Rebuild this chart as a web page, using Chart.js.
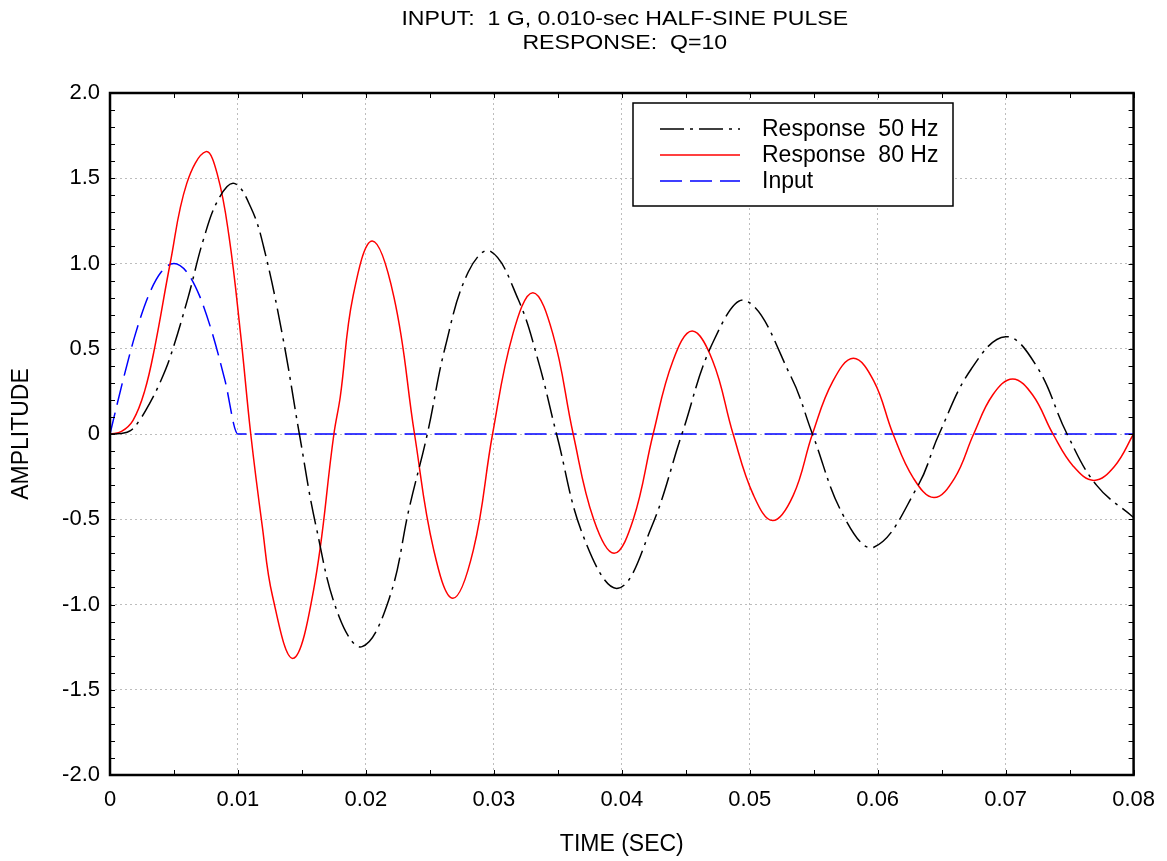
<!DOCTYPE html>
<html>
<head>
<meta charset="utf-8">
<script src="https://cdn.jsdelivr.net/npm/chart.js@4.4.1/dist/chart.umd.min.js"></script>
<style>
  html, body { margin: 0; padding: 0; background: #fff; }
  #wrap { width: 1167px; height: 861px; }
</style>
</head>
<body>
<div id="wrap"><canvas id="shockChart"></canvas></div>
<script>
// values (time in sec, amplitude)
const resp50Time = [0, 0.0008, 0.0016, 0.0023, 0.0031, 0.0039, 0.0047, 0.0061, 0.0073, 0.0085, 0.0097, 0.0110, 0.0120, 0.0135, 0.0148, 0.0161, 0.0179, 0.0197, 0.0218, 0.0234, 0.0248, 0.0262, 0.0280, 0.0297, 0.0319, 0.0335, 0.0349, 0.0371, 0.0397, 0.0423, 0.0447, 0.0472, 0.0497, 0.0532, 0.0549, 0.0574, 0.0597, 0.0631, 0.0648, 0.0673, 0.0700, 0.0724, 0.0748, 0.0771, 0.0800];
const resp50Amp = [0, 0.003, 0.02, 0.08, 0.18, 0.30, 0.45, 0.80, 1.14, 1.38, 1.47, 1.33, 1.10, 0.57, 0, -0.54, -1.07, -1.247, -0.97, -0.43, 0, 0.51, 0.95, 1.073, 0.79, 0.42, 0, -0.62, -0.905, -0.55, 0, 0.55, 0.782, 0.34, 0, -0.49, -0.664, -0.31, 0, 0.38, 0.571, 0.40, 0, -0.30, -0.49];

const resp80Time = [0, 0.0009, 0.0018, 0.0027, 0.0035, 0.0047, 0.0060, 0.0075, 0.0084, 0.0093, 0.0102, 0.0110, 0.0119, 0.0127, 0.0143, 0.0159, 0.0175, 0.0180, 0.0190, 0.0205, 0.0222, 0.0238, 0.0253, 0.0268, 0.0284, 0.0299, 0.0315, 0.03305, 0.0346, 0.0362, 0.0378, 0.0394, 0.0409, 0.04245, 0.0440, 0.0455, 0.0471, 0.0487, 0.0503, 0.0518, 0.0534, 0.0549, 0.0565, 0.0581, 0.0597, 0.0612, 0.0628, 0.0644, 0.0660, 0.0675, 0.0690, 0.07055, 0.0721, 0.0737, 0.0753, 0.0769, 0.0785, 0.0800];
const resp80Amp = [0, 0.015, 0.08, 0.25, 0.51, 1.00, 1.47, 1.656, 1.52, 1.16, 0.59, 0, -0.54, -0.95, -1.316, -0.92, 0, 0.22, 0.81, 1.132, 0.80, 0, -0.68, -0.964, -0.68, 0, 0.59, 0.829, 0.59, 0, -0.50, -0.700, -0.50, 0, 0.43, 0.604, 0.43, 0, -0.36, -0.508, -0.36, 0, 0.31, 0.444, 0.31, 0, -0.26, -0.373, -0.26, 0, 0.23, 0.323, 0.23, 0, -0.19, -0.272, -0.19, 0];

const inputTime = [0, 0.001, 0.002, 0.003, 0.004, 0.005, 0.006, 0.007, 0.008, 0.009, 0.010, 0.080];
const inputAmp = [0, 0.31, 0.59, 0.81, 0.95, 1.0, 0.95, 0.81, 0.59, 0.31, 0, 0];

const seriesNames = ['Response  50 Hz', 'Response  80 Hz', 'Input'];
const titleLines = ['INPUT:  1 G, 0.010-sec HALF-SINE PULSE', 'RESPONSE:  Q=10'];

const toPoints = (xs, ys) => xs.map((x, i) => ({ x: x, y: ys[i] }));
const FONT = '"Liberation Sans", Arial, sans-serif';

// title, frame, inward ticks and legend box
const framePlugin = {
  id: 'frame',
  afterDraw(chart) {
    const { ctx, chartArea: a, scales } = chart;
    const xs = scales.x, ys = scales.y;
    ctx.save();

    const cx = (a.left + a.right) / 2;
    ctx.fillStyle = '#000';
    ctx.font = '21px ' + FONT;
    ctx.textAlign = 'center';
    ctx.textBaseline = 'middle';
    titleLines.forEach((t, i) => {
      ctx.save();
      ctx.translate(cx + 3, 19 + i * 24);
      ctx.scale(1.1, 1);
      ctx.fillText(t, 0, 0);
      ctx.restore();
    });

    ctx.strokeStyle = '#000';
    ctx.lineWidth = 1;
    ctx.beginPath();
    for (let i = 0; i <= 16; i++) {
      const px = Math.round(xs.getPixelForValue(i * 0.005)) + 0.5;
      ctx.moveTo(px, a.bottom); ctx.lineTo(px, a.bottom - 5);
      ctx.moveTo(px, a.top); ctx.lineTo(px, a.top + 5);
    }
    for (let i = 0; i <= 40; i++) {
      const py = Math.round(ys.getPixelForValue(-2 + i * 0.1)) + 0.5;
      ctx.moveTo(a.left, py); ctx.lineTo(a.left + 5, py);
      ctx.moveTo(a.right, py); ctx.lineTo(a.right - 5, py);
    }
    ctx.stroke();
    ctx.lineWidth = 2.5;
    ctx.strokeRect(a.left, a.top, a.right - a.left, a.bottom - a.top);

    // legend
    const bx = a.left + 523, by = a.top + 10, bw = 320, bh = 103;
    ctx.fillStyle = '#fff';
    ctx.fillRect(bx, by, bw, bh);
    ctx.lineWidth = 1.5;
    ctx.strokeRect(bx, by, bw, bh);
    ctx.font = '23px ' + FONT;
    ctx.textAlign = 'left';
    ctx.textBaseline = 'middle';
    chart.data.datasets.forEach((ds, i) => {
      const y = by + 26 + i * 26;
      ctx.strokeStyle = ds.borderColor;
      ctx.lineWidth = 1.5;
      ctx.setLineDash(ds.borderDash || []);
      ctx.beginPath();
      ctx.moveTo(bx + 27, y); ctx.lineTo(bx + 107, y);
      ctx.stroke();
      ctx.setLineDash([]);
      ctx.fillStyle = '#000';
      ctx.fillText(ds.label, bx + 129, y + 1);
    });
    ctx.restore();
  }
};

new Chart(document.getElementById('shockChart'), {
  type: 'line',
  data: {
    datasets: [{
      label: seriesNames[0],
      data: toPoints(resp50Time, resp50Amp),
      borderColor: '#000000',
      borderWidth: 1.5,
      borderDash: [24, 6, 3, 6],
      tension: 0.4
    }, {
      label: seriesNames[1],
      data: toPoints(resp80Time, resp80Amp),
      borderColor: '#ff0000',
      borderWidth: 1.5,
      tension: 0.4
    }, {
      label: seriesNames[2],
      data: toPoints(inputTime, inputAmp),
      borderColor: '#0000ff',
      borderWidth: 1.5,
      borderDash: [22, 8],
      cubicInterpolationMode: 'monotone'
    }]
  },
  options: {
    responsive: true,
    maintainAspectRatio: false,
    animation: false,
    elements: { point: { radius: 0 } },
    layout: { padding: { left: 0, right: 30, top: 93, bottom: 0 } },
    plugins: {
      legend: { display: false },
      tooltip: { enabled: false },
      title: { display: false }
    },
    scales: {
      x: {
        type: 'linear',
        min: 0,
        max: 0.08,
        afterFit: (s) => { s.height = 86; },
        border: { display: false, dash: [2, 3] },
        grid: { color: '#bdbdbd', drawTicks: false },
        ticks: {
          stepSize: 0.01,
          padding: 12,
          color: '#000',
          font: { family: FONT, size: 22 },
          maxRotation: 0,
          callback: (v) => v === 0 ? '0' : v.toFixed(2)
        },
        title: {
          display: true,
          text: 'TIME (SEC)',
          color: '#000',
          font: { family: FONT, size: 23 },
          padding: { top: 0, bottom: 3 }
        }
      },
      y: {
        min: -2,
        max: 2,
        afterFit: (s) => { s.width = 110; },
        border: { display: false, dash: [2, 3] },
        grid: { color: '#bdbdbd', drawTicks: false },
        ticks: {
          stepSize: 0.5,
          padding: 10,
          color: '#000',
          font: { family: FONT, size: 22 },
          callback: (v) => v === 0 ? '0' : v.toFixed(1)
        },
        title: {
          display: true,
          text: 'AMPLITUDE',
          color: '#000',
          font: { family: FONT, size: 23 },
          padding: { top: 8, bottom: 0 }
        }
      }
    }
  },
  plugins: [framePlugin]
});
</script>
</body>
</html>
